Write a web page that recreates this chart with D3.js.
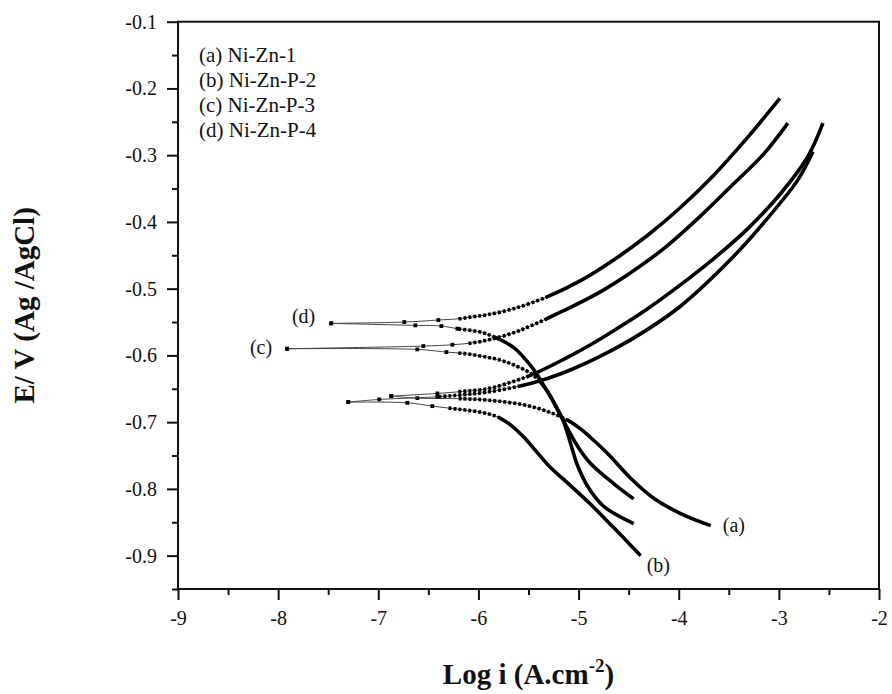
<!DOCTYPE html>
<html>
<head>
<meta charset="utf-8">
<script src="https://d3js.org/d3.v7.min.js"></script>
<style>
  body { margin: 0; background: #fff; }
  text { font-family: "Liberation Serif", "Times New Roman", serif; fill: #111; }
</style>
</head>
<body>
<div id="chart"></div>
<script>
const svgWidth = 892;
const svgHeight = 694;

const margin = { top: 21.7, right: 13, bottom: 105, left: 178 };
const width = svgWidth - margin.left - margin.right;
const height = svgHeight - margin.top - margin.bottom;

// Tick values
const xTicks = [-9, -8, -7, -6, -5, -4, -3, -2];
const xMinor = [-8.5, -7.5, -6.5, -5.5, -4.5, -3.5, -2.5];
const yTicks = [-0.1, -0.2, -0.3, -0.4, -0.5, -0.6, -0.7, -0.8, -0.9];
const yMinor = [-0.15, -0.25, -0.35, -0.45, -0.55, -0.65, -0.75, -0.85, -0.95];

const legendLabels = ["(a) Ni-Zn-1", "(b) Ni-Zn-P-2", "(c) Ni-Zn-P-3", "(d) Ni-Zn-P-4"];

// [log i, E], one array per branch
const aAnodic = [[-6.87,-0.661],[-6.41,-0.657],[-6.16,-0.654],[-5.91,-0.650],[-5.65,-0.639],[-5.45,-0.628],[-5.15,-0.606],[-4.88,-0.584],[-4.65,-0.563],[-4.31,-0.530],[-3.98,-0.494],[-3.65,-0.455],[-3.31,-0.410],[-2.98,-0.357],[-2.71,-0.302],[-2.56,-0.252]];
const aCathodic = [[-6.87,-0.661],[-6.61,-0.664],[-6.15,-0.665],[-5.91,-0.667],[-5.55,-0.674],[-5.31,-0.684],[-5.11,-0.697],[-4.98,-0.710],[-4.88,-0.723],[-4.71,-0.747],[-4.48,-0.784],[-4.25,-0.814],[-3.98,-0.837],[-3.68,-0.855]];
const bAnodic = [[-7.30,-0.670],[-6.99,-0.666],[-6.41,-0.662],[-6.16,-0.659],[-5.91,-0.655],[-5.48,-0.642],[-5.15,-0.626],[-4.65,-0.591],[-4.31,-0.561],[-3.98,-0.526],[-3.48,-0.456],[-3.15,-0.401],[-2.81,-0.337],[-2.66,-0.295]];
const bCathodic = [[-7.30,-0.670],[-6.71,-0.671],[-6.46,-0.676],[-6.18,-0.681],[-5.98,-0.685],[-5.81,-0.692],[-5.68,-0.704],[-5.55,-0.722],[-5.41,-0.746],[-5.28,-0.768],[-5.11,-0.791],[-4.88,-0.823],[-4.65,-0.858],[-4.38,-0.900]];
const cAnodic = [[-7.91,-0.590],[-6.55,-0.586],[-6.26,-0.584],[-6.05,-0.581],[-5.85,-0.575],[-5.65,-0.566],[-5.48,-0.556],[-5.15,-0.533],[-4.81,-0.507],[-4.48,-0.476],[-4.15,-0.440],[-3.81,-0.395],[-3.48,-0.347],[-3.15,-0.298],[-2.91,-0.252]];
const cCathodic = [[-7.91,-0.590],[-6.61,-0.591],[-6.32,-0.595],[-6.15,-0.597],[-5.98,-0.601],[-5.81,-0.606],[-5.65,-0.614],[-5.45,-0.630],[-5.31,-0.654],[-5.18,-0.690],[-5.01,-0.736],[-4.88,-0.762],[-4.65,-0.792],[-4.45,-0.815]];
const dAnodic = [[-7.47,-0.552],[-6.74,-0.550],[-6.40,-0.547],[-6.19,-0.545],[-6.05,-0.542],[-5.91,-0.539],[-5.65,-0.530],[-5.31,-0.512],[-4.98,-0.488],[-4.65,-0.457],[-4.31,-0.420],[-3.98,-0.378],[-3.65,-0.330],[-3.31,-0.273],[-2.99,-0.215]];
const dCathodic = [[-7.47,-0.552],[-6.63,-0.555],[-6.37,-0.556],[-6.21,-0.560],[-5.98,-0.565],[-5.85,-0.572],[-5.65,-0.588],[-5.48,-0.615],[-5.38,-0.637],[-5.25,-0.670],[-5.15,-0.699],[-5.08,-0.732],[-5.01,-0.765],[-4.91,-0.796],[-4.75,-0.826],[-4.45,-0.852]];

// branch, where the dense dotted part starts, where it turns solid
const branches = [
  { data: aAnodic,   dotFrom: -6.2, solidFrom: -5.5 },
  { data: aCathodic, dotFrom: -6.2, solidFrom: -5.1 },
  { data: bAnodic,   dotFrom: -6.4, solidFrom: -5.6 },
  { data: bCathodic, dotFrom: -6.3, solidFrom: -5.8 },
  { data: cAnodic,   dotFrom: -6.1, solidFrom: -5.3 },
  { data: cCathodic, dotFrom: -6.2, solidFrom: -5.4 },
  { data: dAnodic,   dotFrom: -6.2, solidFrom: -5.3 },
  { data: dCathodic, dotFrom: -6.2, solidFrom: -5.85 }
];

const svg = d3.select("#chart")
  .append("svg")
  .attr("width", svgWidth)
  .attr("height", svgHeight);

const chartGroup = svg.append("g")
  .attr("transform", `translate(${margin.left}, ${margin.top})`);

const x = d3.scaleLinear().domain([-9, -2]).range([0, width]);
const y = d3.scaleLinear().domain([-0.95, -0.1]).range([height, 0]);

// axes: major with labels, minor without
chartGroup.append("g")
  .attr("transform", `translate(0, ${height})`)
  .call(d3.axisBottom(x).tickValues(xTicks).tickSize(11).tickPadding(11).tickFormat(d => String(d)));
chartGroup.append("g")
  .attr("transform", `translate(0, ${height})`)
  .call(d3.axisBottom(x).tickValues(xMinor).tickSize(6).tickFormat(""));
chartGroup.append("g")
  .call(d3.axisLeft(y).tickValues(yTicks).tickSize(11).tickPadding(10).tickFormat(d => d.toFixed(1)));
chartGroup.append("g")
  .call(d3.axisLeft(y).tickValues(yMinor).tickSize(6).tickFormat(""));

chartGroup.selectAll(".domain").remove();
chartGroup.selectAll(".tick line").attr("stroke", "#111").attr("stroke-width", 2);
chartGroup.selectAll(".tick text").style("font-size", "20px").attr("fill", "#111");

chartGroup.append("rect")
  .attr("width", width)
  .attr("height", height)
  .attr("fill", "none")
  .attr("stroke", "#111")
  .attr("stroke-width", 2);

const line = d3.line()
  .x(d => x(d[0]))
  .y(d => y(d[1]))
  .curve(d3.curveCatmullRom.alpha(0.5));

const dotLen = 3, dotGap = 2;

branches.forEach(b => {
  // thin connecting line
  chartGroup.append("path")
    .attr("d", line(b.data))
    .attr("fill", "none")
    .attr("stroke", "#444")
    .attr("stroke-width", 1);

  // thick part: dotted first, then solid
  const thick = chartGroup.append("path")
    .attr("d", line(b.data))
    .attr("fill", "none")
    .attr("stroke", "#000")
    .attr("stroke-width", 3.6)
    .attr("stroke-linecap", "butt");

  const node = thick.node();
  const total = node.getTotalLength();
  const lenAt = px => {
    let lo = 0, hi = total;
    for (let i = 0; i < 30; i++) {
      const mid = (lo + hi) / 2;
      if (node.getPointAtLength(mid).x < px) lo = mid; else hi = mid;
    }
    return lo;
  };
  const l1 = lenAt(x(b.dotFrom));
  const l2 = lenAt(x(b.solidFrom));
  const dash = [0, l1];
  let l = l1;
  while (l + dotLen + dotGap < l2) { dash.push(dotLen, dotGap); l += dotLen + dotGap; }
  dash.push(total - l + 2, 0);
  thick.attr("stroke-dasharray", dash.join(" "));

  // sparse markers near the corrosion potential
  chartGroup.selectAll(null)
    .data(b.data.filter(d => d[0] < b.dotFrom))
    .enter()
    .append("rect")
    .attr("x", d => x(d[0]) - 1.9)
    .attr("y", d => y(d[1]) - 1.9)
    .attr("width", 3.8)
    .attr("height", 3.8)
    .attr("fill", "#000");
});

// curve labels
const curveLabels = [
  { text: "(a)", at: aCathodic[aCathodic.length - 1], dx: 12, dy: 6, anchor: "start" },
  { text: "(b)", at: bCathodic[bCathodic.length - 1], dx: 6, dy: 16, anchor: "start" },
  { text: "(c)", at: cAnodic[0], dx: -15, dy: 5, anchor: "end" },
  { text: "(d)", at: dAnodic[0], dx: -16, dy: 0, anchor: "end" }
];
chartGroup.selectAll(".curveLabel")
  .data(curveLabels)
  .enter()
  .append("text")
  .attr("x", d => x(d.at[0]) + d.dx)
  .attr("y", d => y(d.at[1]) + d.dy)
  .attr("text-anchor", d => d.anchor)
  .style("font-size", "20px")
  .text(d => d.text);

// legend
chartGroup.selectAll(".legend")
  .data(legendLabels)
  .enter()
  .append("text")
  .attr("x", 21)
  .attr("y", (d, i) => 40 + i * 25)
  .style("font-size", "21px")
  .text(d => d);

// axis titles
svg.append("text")
  .attr("transform", `translate(34, ${margin.top + height / 2}) rotate(-90)`)
  .attr("text-anchor", "middle")
  .style("font-size", "29px")
  .style("font-weight", "bold")
  .text("E/ V (Ag /AgCl)");

const xTitle = svg.append("text")
  .attr("x", margin.left + width / 2)
  .attr("y", 684)
  .attr("text-anchor", "middle")
  .style("font-size", "29px")
  .style("font-weight", "bold");
xTitle.append("tspan").text("Log i (A.cm");
xTitle.append("tspan").attr("dy", -12).style("font-size", "19px").text("-2");
xTitle.append("tspan").attr("dy", 12).text(")");
</script>
</body>
</html>
